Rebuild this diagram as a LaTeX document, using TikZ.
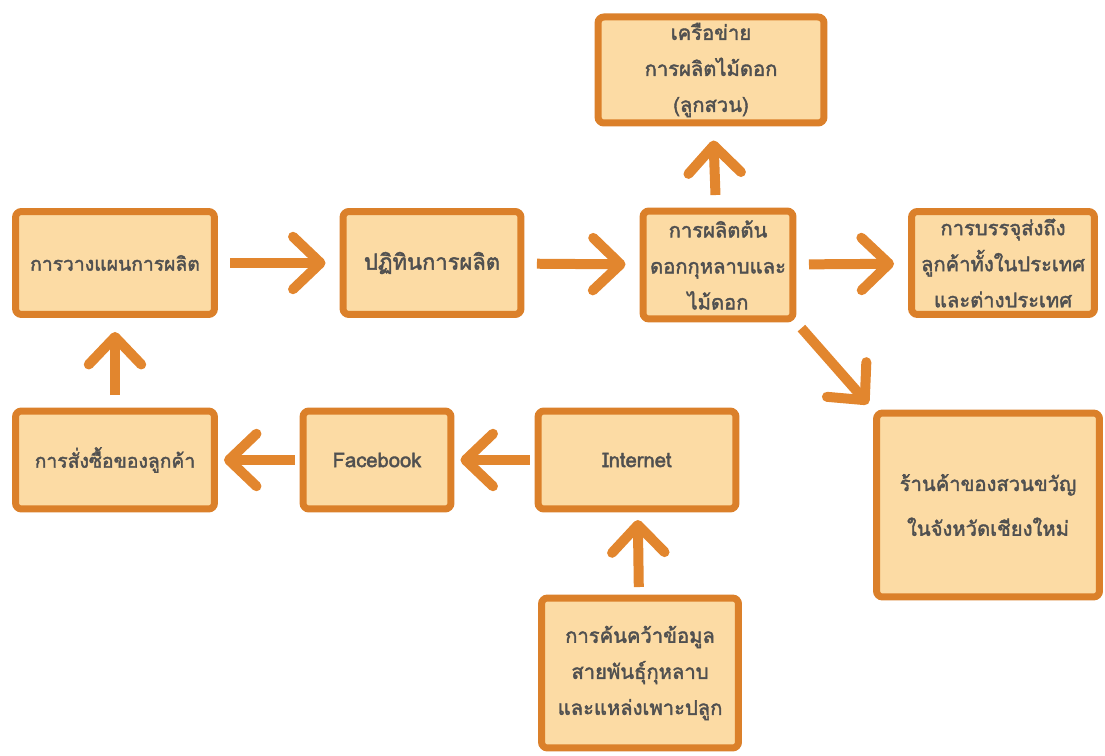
\documentclass[tikz,border=0pt]{standalone}
\usepackage{fontspec}
\setmainfont[Script=Thai,AutoFakeBold=2]{Loma}
\usetikzlibrary{arrows.meta}
\definecolor{boxfill}{RGB}{252,219,164}
\definecolor{boxline}{RGB}{219,128,42}
\definecolor{arrowc}{RGB}{226,134,46}
\definecolor{txt}{RGB}{80,80,80}
\tikzset{box/.style={draw=boxline,fill=boxfill,line width=0.14cm,rounded corners=0.12cm,
  align=center,text=txt,font=\bfseries\fontsize{11.5}{20.5}\selectfont}}
\tikzset{flow/.style={draw=arrowc,line width=0.2cm,shorten <=0.25cm,shorten >=0.28cm,
  -{Straight Barb[length=0.55cm,width=1.05cm,line cap=round,round]}}}

\begin{document}
\begin{tikzpicture}[x=0.02cm,y=-0.02cm]
\useasboundingbox (0,0) rectangle (1105,756);
\node[box,minimum width=4.52cm,minimum height=2.06cm](net) at (711,70){เครือข่าย\\การผลิตไม้ดอก\\(ลูกสวน)};
\node[box,minimum width=3.98cm,minimum height=2.06cm,font=\bfseries\fontsize{11}{20}\selectfont](plan) at (115,263){การวางแผนการผลิต};
\node[box,minimum width=3.56cm,minimum height=2.06cm,font=\bfseries\fontsize{12.5}{20}\selectfont](cal) at (432,263){ปฏิทินการผลิต};
\node[box,minimum width=3cm,minimum height=2.16cm](prod) at (718,265){การผลิตต้น\\ดอกกุหลาบและ\\ไม้ดอก};
\node[box,minimum width=3.66cm,minimum height=2.06cm](pack) at (1003,263){การบรรจุส่งถึง\\ลูกค้าทั้งในประเทศ\\และต่างประเทศ};
\node[box,minimum width=3.98cm,minimum height=1.96cm,font=\bfseries\fontsize{11}{20}\selectfont](order) at (115,460){การสั่งซื้อของลูกค้า};
\node[box,minimum width=2.96cm,minimum height=1.96cm](fb) at (377,460){Facebook};
\node[box,minimum width=3.96cm,minimum height=1.96cm](inet) at (637,460){Internet};
\node[box,minimum width=4.46cm,minimum height=3.68cm,font=\bfseries\fontsize{11.5}{25.5}\selectfont](shop) at (988,505){ร้านค้าของสวนขวัญ\\ในจังหวัดเชียงใหม่};
\node[box,minimum width=3.94cm,minimum height=3cm](search) at (640,673){การค้นคว้าข้อมูล\\สายพันธุ์กุหลาบ\\และแหล่งเพาะปลูก};
% flow of the process
\draw[flow] (plan) -- (cal);
\draw[flow] (cal) -- (prod);
\draw[flow] (prod) -- (pack);
\draw[flow] (prod) -- (net);
\draw[flow,shorten <=0.15cm,shorten >=0.15cm] (prod.south east) -- (shop.north west);
\draw[flow,shorten <=0.1cm,shorten >=0.12cm] (inet) -- (fb);
\draw[flow,shorten <=0.1cm,shorten >=0.12cm] (fb) -- (order);
\draw[flow] (order) -- (plan);
\draw[flow,shorten <=0.15cm,shorten >=0.15cm] (search) -- (inet);
\end{tikzpicture}
\end{document}
